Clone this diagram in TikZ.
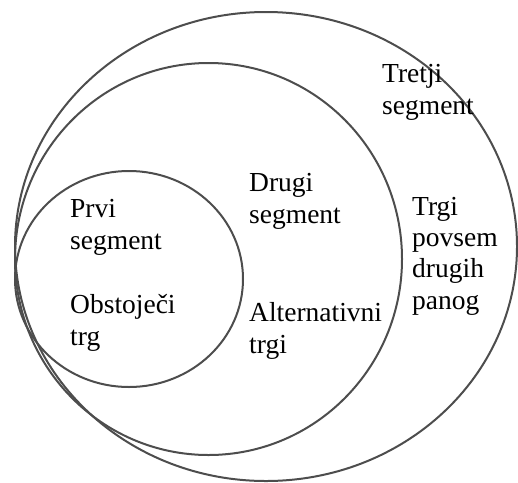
\documentclass[tikz,border=0pt]{standalone}
\usepackage{fontspec}
\setmainfont{Liberation Serif}
\usetikzlibrary{shapes.geometric}
\definecolor{ringgray}{HTML}{4D4D4D}
\begin{document}
\begin{tikzpicture}[x=1pt,y=-1pt,
  ring/.style={draw=ringgray, line width=2pt, ellipse, inner sep=0pt, outer sep=0pt},
  lbl/.style={anchor=base west, inner sep=0pt, align=left, font=\fontsize{27.5}{31.3}\selectfont}]
\useasboundingbox (0,0) rectangle (518,482);
\node[ring, minimum width=502pt, minimum height=469pt] (outer) at (266,246.5) {};
\node[ring, minimum width=387pt, minimum height=392pt] (middle) at (208.5,259) {};
\node[ring, minimum width=228pt, minimum height=216pt] (inner) at (129,279) {};
\node[lbl] (tretji) at (382,114) {Tretji\\segment};
\node[lbl] (drugi) at (249,223) {Drugi\\segment};
\node[lbl] (prvi) at (70,249) {Prvi\\segment};
\node[lbl] (obst) at (70,345) {Obstoječi\\trg};
\node[lbl] (alt) at (249,353) {Alternativni\\trgi};
\node[lbl] (trgi) at (412,309) {Trgi\\povsem\\drugih\\panog};
\end{tikzpicture}
\end{document}
